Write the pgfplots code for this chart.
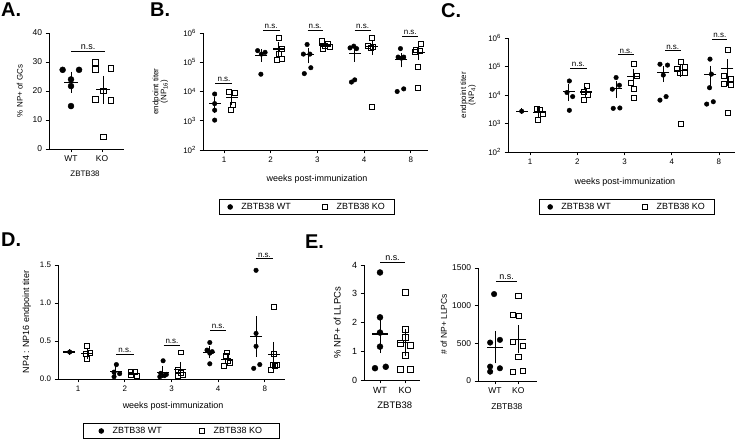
\documentclass[border=0pt]{standalone}
\usepackage{fontspec}
\setmainfont{Liberation Sans}
\usepackage{pgfplots}
\pgfplotsset{compat=1.18}
\newcommand{\fs}[1]{\fontsize{#1}{#1}\selectfont}
\pgfplotsset{
  prism/.style={
    scale only axis, clip=false,
    axis x line*=bottom, axis y line*=left,
    axis line style={line width=0.9pt},
    tick style={line width=0.9pt, black},
    tick align=outside, major tick length=3.5pt,
    /pgf/number format/assume math mode=true,
    /pgf/number format/1000 sep={},
    yminorticks=false, xminorticks=false,
  },
  wt/.style={only marks, mark=*, mark size=#1, black, forget plot},
  ko/.style={only marks, mark=square, mark size=#1, black, mark options={line width=0.8pt}, forget plot},
  mean/.style 2 args={only marks, mark=-, mark size=#1, black, forget plot,
    mark options={line width=1.1pt},
    error bars/.cd, y dir=both, y explicit,
    error bar style={line width=0.9pt, black},
    error mark options={mark size=#2, line width=0.9pt, black}},
  ns/.style={black, line width=0.9pt, forget plot},
  leg/.style n args={3}{legend style={draw=black, line width=0.9pt, at={#1}, anchor=center,
    legend columns=2, font=\fs{9},
    /tikz/every odd column/.append style={column sep=7pt},
    /tikz/every even column/.append style={column sep=#2},
    inner xsep=#3, inner ysep=2pt}},
}
\begin{document}
\begin{tikzpicture}
\path[use as bounding box] (0,0) rectangle (740bp,441bp);
% panel letters
\node[anchor=north west, inner sep=0, font=\fs{20}\bfseries] at (1bp,438bp) {A.};
\node[anchor=north west, inner sep=0, font=\fs{20}\bfseries] at (150bp,438bp) {B.};
\node[anchor=north west, inner sep=0, font=\fs{20}\bfseries] at (441bp,438bp) {C.};
\node[anchor=north west, inner sep=0, font=\fs{20}\bfseries] at (1bp,208bp) {D.};
\node[anchor=north west, inner sep=0, font=\fs{20}\bfseries] at (305bp,206bp) {E.};

% ---------------- A ----------------
\begin{axis}[prism, at={(49bp,292bp)}, anchor=south west, width=75bp, height=116bp,
  xmin=-0.71, xmax=1.71, ymin=0, ymax=40, ytick={0,10,20,30,40},
  xtick={0,1}, xticklabels={WT,KO},
  tick label style={font=\fs{8.5}}, label style={font=\fs{8}},
  ylabel={\% NP+ of GCs}, xlabel={ZBTB38},
  ylabel style={at={(axis description cs:-0.39,0.5)}, anchor=center},
  xlabel style={at={(axis description cs:0.48,-0.21)}, anchor=center}]
\addplot[wt=3pt] coordinates {(-0.27,27.3) (0.26,27.3) (0,24) (0,21.7) (0,14.8)};
\addplot[ko=2.7pt] coordinates {(0.79,29.8) (0.79,27.5) (1.28,27.8) (0.79,17.1) (1.28,16.7) (1.04,20.1) (1.04,4.1)};
\addplot[mean={7pt}{4pt}] coordinates {(0,23.0) +- (0,2.31) (1.04,20.44) +- (0,3.39)};
\addplot[ns] coordinates {(0,33.8) (1.1,33.8)};
\node[font=\fs{9}, anchor=south, inner sep=1.5pt] at (axis cs:0.55,33.8) {n.s.};
\end{axis}

% ---------------- B ----------------
\begin{axis}[prism, at={(203bp,291bp)}, anchor=south west, width=225bp, height=117bp,
  ymode=log, ymin=100, ymax=1e6, xmin=-0.45, xmax=4.37,
  ytick={1e2,1e3,1e4,1e5,1e6},
  yticklabels={10\textsuperscript{2},10\textsuperscript{3},10\textsuperscript{4},10\textsuperscript{5},10\textsuperscript{6}},
  xtick={0,1,2,3,4}, xticklabels={1,2,3,4,8},
  tick label style={font=\fs{8}},
  ylabel={endpoint titer\\(NP\textsubscript{16})}, xlabel={weeks post-immunization},
  ylabel style={at={(axis description cs:-0.19,0.5)}, anchor=center, align=center, font=\fs{8}},
  xlabel style={at={(axis description cs:0.507,-0.248)}, anchor=center, font=\fs{9}},
  leg={(0.464,-0.487)}{30pt}{8pt}]
\addlegendimage{only marks, mark=*, mark size=2.3pt, black}
\addlegendentry{ZBTB38 WT}
\addlegendimage{only marks, mark=square, mark size=2.5pt, black, mark options={line width=0.8pt}}
\addlegendentry{ZBTB38 KO}
\addplot[wt=2.3pt] coordinates {
(-0.2,8200) (-0.2,3850) (-0.2,2300) (-0.2,1050)
(0.72,250000) (0.80,190000) (0.88,218000) (0.79,39000)
(1.78,405000) (1.70,190000) (1.84,190000) (1.72,41000) (1.86,65000)
(2.70,310000) (2.78,355000) (2.84,293000) (2.73,21000) (2.80,25000)
(3.78,293000) (3.73,150000) (3.80,138000) (3.85,150000) (3.71,10000) (3.85,12300)};
\addplot[ko=2.5pt] coordinates {
(0.11,9500) (0.24,9000) (0.19,3400) (0.14,2300)
(1.18,690000) (1.23,286000) (1.18,190000) (1.13,120000) (1.23,134000)
(2.10,530000) (2.23,440000) (2.16,355000) (2.27,340000) (2.11,286000)
(3.16,690000) (3.09,355000) (3.19,340000) (3.14,300000) (3.16,2900)
(4.21,430000) (4.11,270000) (4.19,250000) (4.09,224000) (4.16,70000) (4.16,12900)};
\addplot[mean={6pt}{2.8pt}] coordinates {
(-0.2,3850) +- (0,1560) (0.8,174000) +- (0,46700) (1.8,178000) +- (0,64600)
(2.8,200800) +- (0,73000) (3.8,125600) +- (0,43000)};
\addplot[mean={6pt}{2.8pt}] coordinates {
(0.17,6050) +- (0,1864) (1.17,284000) +- (0,105600) (2.17,390000) +- (0,42800)
(3.17,337600) +- (0,109000) (4.17,209500) +- (0,61000)};
\addplot[ns] coordinates {(-0.19,19400) (0.17,19400)};
\addplot[ns] coordinates {(0.84,1.26e6) (1.19,1.26e6)};
\addplot[ns] coordinates {(1.79,1.2e6) (2.12,1.2e6)};
\addplot[ns] coordinates {(2.80,1.26e6) (3.14,1.26e6)};
\addplot[ns] coordinates {(3.82,7.9e5) (4.16,7.9e5)};
\node[font=\fs{8}, anchor=south, inner sep=1.5pt] at (axis cs:0,19400) {n.s.};
\node[font=\fs{8}, anchor=south, inner sep=1.5pt] at (axis cs:1.01,1.26e6) {n.s.};
\node[font=\fs{8}, anchor=south, inner sep=1.5pt] at (axis cs:1.95,1.2e6) {n.s.};
\node[font=\fs{8}, anchor=south, inner sep=1.5pt] at (axis cs:2.97,1.26e6) {n.s.};
\node[font=\fs{8}, anchor=south, inner sep=1.5pt] at (axis cs:3.99,7.9e5) {n.s.};
\end{axis}

% ---------------- C ----------------
\begin{axis}[prism, at={(508bp,289bp)}, anchor=south west, width=227bp, height=114bp,
  ymode=log, ymin=100, ymax=1e6, xmin=-0.47, xmax=4.34,
  ytick={1e2,1e3,1e4,1e5,1e6},
  yticklabels={10\textsuperscript{2},10\textsuperscript{3},10\textsuperscript{4},10\textsuperscript{5},10\textsuperscript{6}},
  xtick={0,1,2,3,4}, xticklabels={1,2,3,4,8},
  tick label style={font=\fs{8}},
  ylabel={endpoint titer\\(NP\textsubscript{4})}, xlabel={weeks post-immunization},
  ylabel style={at={(axis description cs:-0.176,0.5)}, anchor=center, align=center, font=\fs{8}},
  xlabel style={at={(axis description cs:0.515,-0.263)}, anchor=center, font=\fs{9}},
  leg={(0.526,-0.482)}{30pt}{8pt}]
\addlegendimage{only marks, mark=*, mark size=2.3pt, black}
\addlegendentry{ZBTB38 WT}
\addlegendimage{only marks, mark=square, mark size=2.5pt, black, mark options={line width=0.8pt}}
\addlegendentry{ZBTB38 KO}
\addplot[wt=2.3pt] coordinates {
(-0.18,2700)
(0.83,31000) (0.78,12200) (0.90,8800) (0.83,2900)
(1.82,41000) (1.89,22000) (1.74,16000) (1.76,3400) (1.90,3500)
(2.75,120000) (2.91,112000) (2.82,50000) (2.75,6600) (2.88,8800)
(3.81,181000) (3.84,54000) (3.80,18000) (3.74,4800) (3.88,5800)};
\addplot[ko=2.5pt] coordinates {
(0.14,3200) (0.21,3000) (0.26,2100) (0.16,1350)
(1.20,21000) (1.14,13000) (1.22,10000) (1.14,6700)
(2.19,120000) (2.26,45000) (2.13,27500) (2.20,16000) (2.19,8100)
(3.19,146000) (3.28,100000) (3.10,81000) (3.17,62000) (3.27,59000) (3.19,940)
(4.18,375000) (4.11,47000) (4.25,38000) (4.11,24000) (4.25,22000) (4.18,2300)};
\addplot[mean={6pt}{2.8pt}] coordinates {
(-0.18,2700) +- (0,0) (0.82,13700) +- (0,6070) (1.82,17200) +- (0,7000)
(2.82,59500) +- (0,24400) (3.82,52700) +- (0,33300)};
\addplot[mean={6pt}{2.8pt}] coordinates {
(0.18,2412) +- (0,427) (1.18,12700) +- (0,3060) (2.18,43300) +- (0,20100)
(3.18,74800) +- (0,19700) (4.18,84700) +- (0,58400)};
\addplot[ns] coordinates {(0.85,85000) (1.20,85000)};
\addplot[ns] coordinates {(1.87,2.57e5) (2.19,2.57e5)};
\addplot[ns] coordinates {(2.86,3.55e5) (3.19,3.55e5)};
\addplot[ns] coordinates {(3.86,9.1e5) (4.18,9.1e5)};
\node[font=\fs{8}, anchor=south, inner sep=1.5pt] at (axis cs:1.02,85000) {n.s.};
\node[font=\fs{8}, anchor=south, inner sep=1.5pt] at (axis cs:2.03,2.57e5) {n.s.};
\node[font=\fs{8}, anchor=south, inner sep=1.5pt] at (axis cs:3.02,3.55e5) {n.s.};
\node[font=\fs{8}, anchor=south, inner sep=1.5pt] at (axis cs:4.02,9.1e5) {n.s.};
\end{axis}

% ---------------- D ----------------
\begin{axis}[prism, at={(58bp,62bp)}, anchor=south west, width=227bp, height=114bp,
  ymin=0, ymax=1.5, xmin=-0.43, xmax=4.43,
  ytick={0,0.5,1,1.5},
  yticklabel style={/pgf/number format/.cd, fixed, fixed zerofill, precision=1},
  xtick={0,1,2,3,4}, xticklabels={1,2,3,4,8},
  tick label style={font=\fs{8}},
  ylabel={NP4 : NP16 endpoint titer}, xlabel={weeks post-immunization},
  ylabel style={at={(axis description cs:-0.137,0.5)}, anchor=center, font=\fs{9}},
  xlabel style={at={(axis description cs:0.507,-0.237)}, anchor=center, font=\fs{9}},
  leg={(0.544,-0.456)}{36pt}{16pt}]
\addlegendimage{only marks, mark=*, mark size=2.3pt, black}
\addlegendentry{ZBTB38 WT}
\addlegendimage{only marks, mark=square, mark size=2.5pt, black, mark options={line width=0.8pt}}
\addlegendentry{ZBTB38 KO}
\addplot[wt=2.3pt] coordinates {
(-0.18,0.355)
(0.82,0.19) (0.77,0.09) (0.89,0.07) (0.77,0.03)
(1.82,0.24) (1.77,0.075) (1.89,0.06) (1.85,0.045) (1.75,0.03)
(2.82,0.48) (2.76,0.38) (2.87,0.36) (2.82,0.34) (2.82,0.20)
(3.81,1.43) (3.81,0.60) (3.81,0.43) (3.76,0.14) (3.89,0.19)};
\addplot[ko=2.5pt] coordinates {
(0.19,0.434) (0.16,0.33) (0.25,0.34) (0.19,0.26)
(1.14,0.096) (1.21,0.088) (1.13,0.053) (1.25,0.044)
(2.20,0.35) (2.14,0.12) (2.20,0.075) (2.25,0.06) (2.14,0.044)
(3.19,0.35) (3.17,0.30) (3.21,0.24) (3.26,0.21) (3.12,0.17)
(4.19,0.95) (4.19,0.33) (4.17,0.19) (4.26,0.18) (4.12,0.12) (4.21,0.175)};
\addplot[mean={6pt}{2.8pt}] coordinates {
(-0.19,0.355) +- (0,0) (0.81,0.095) +- (0,0.034) (1.81,0.09) +- (0,0.038)
(2.81,0.352) +- (0,0.045) (3.81,0.558) +- (0,0.233)};
\addplot[mean={6pt}{2.8pt}] coordinates {
(0.19,0.341) +- (0,0.036) (1.19,0.070) +- (0,0.0128) (2.19,0.130) +- (0,0.0565)
(3.19,0.254) +- (0,0.032) (4.19,0.324) +- (0,0.128)};
\addplot[ns] coordinates {(0.82,0.325) (1.19,0.325)};
\addplot[ns] coordinates {(1.83,0.44) (2.19,0.44)};
\addplot[ns] coordinates {(2.83,0.636) (3.17,0.636)};
\addplot[ns] coordinates {(3.81,1.58) (4.17,1.58)};
\node[font=\fs{8}, anchor=south, inner sep=1.5pt] at (axis cs:1.0,0.325) {n.s.};
\node[font=\fs{8}, anchor=south, inner sep=1.5pt] at (axis cs:2.01,0.44) {n.s.};
\node[font=\fs{8}, anchor=south, inner sep=1.5pt] at (axis cs:3.0,0.636) {n.s.};
\node[font=\fs{8}, anchor=south, inner sep=1.5pt] at (axis cs:3.99,1.58) {n.s.};
\end{axis}

% ---------------- E left ----------------
\begin{axis}[prism, at={(364bp,61bp)}, anchor=south west, width=56bp, height=115bp,
  xmin=-0.64, xmax=1.6, ymin=0, ymax=4, ytick={0,1,2,3,4},
  xtick={0,1}, xticklabels={WT,KO},
  tick label style={font=\fs{9}}, label style={font=\fs{9.5}},
  ylabel={\% NP+ of LLPCs}, xlabel={ZBTB38},
  ylabel style={at={(axis description cs:-0.48,0.5)}, anchor=center},
  xlabel style={at={(axis description cs:0.55,-0.217)}, anchor=center}]
\addplot[wt=3pt] coordinates {(0,3.74) (0,2.18) (0,1.65) (0,1.16) (-0.2,0.41) (0.23,0.46)};
\addplot[ko=3pt] coordinates {(1,3.05) (1,1.77) (1,1.48) (0.8,1.28) (1.23,1.19) (1,0.87) (0.8,0.37) (1.23,0.37)};
\addplot[mean={8pt}{4.5pt}] coordinates {(0,1.60) +- (0,0.511) (1,1.30) +- (0,0.306)};
\addplot[ns] coordinates {(0,4.09) (1,4.09)};
\node[font=\fs{9}, anchor=south, inner sep=1.5pt] at (axis cs:0.5,4.09) {n.s.};
\end{axis}

% ---------------- E right ----------------
\begin{axis}[prism, at={(478bp,60bp)}, anchor=south west, width=59bp, height=113bp,
  xmin=-0.73, xmax=1.8, ymin=0, ymax=1500, ytick={0,500,1000,1500},
  xtick={0,1}, xticklabels={WT,KO},
  tick label style={font=\fs{8.5}}, label style={font=\fs{8.5}},
  ylabel={\# of NP+ LLPCs}, xlabel={ZBTB38},
  ylabel style={at={(axis description cs:-0.58,0.5)}, anchor=center},
  xlabel style={at={(axis description cs:0.49,-0.23)}, anchor=center}]
\addplot[wt=2.8pt] coordinates {(-0.04,1154) (-0.21,510) (0.21,546) (-0.21,191) (-0.21,124) (0.21,169)};
\addplot[ko=2.6pt] coordinates {(1,1132) (0.76,879) (1.04,865) (0.76,524) (1.21,470) (1,315) (0.76,124) (1.21,133)};
\addplot[mean={8pt}{4.3pt}] coordinates {(0,449) +- (0,159) (1,555) +- (0,131)};
\addplot[ns] coordinates {(0.04,1322) (0.96,1322)};
\node[font=\fs{9}, anchor=south, inner sep=1.5pt] at (axis cs:0.5,1322) {n.s.};
\end{axis}
\end{tikzpicture}
\end{document}
